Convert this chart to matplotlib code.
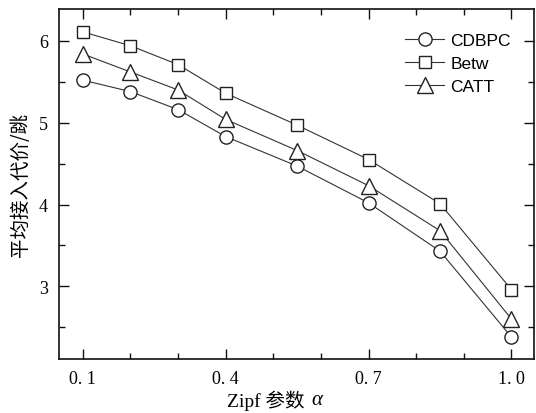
import matplotlib
matplotlib.use("Agg")
import matplotlib.pyplot as plt
from matplotlib.ticker import MultipleLocator, FixedLocator

# Zipf exponent values and average access cost (hops) per scheme
alpha = [0.1, 0.2, 0.3, 0.4, 0.55, 0.7, 0.85, 1.0]
cdbpc = [5.52, 5.38, 5.16, 4.83, 4.47, 4.02, 3.43, 2.38]
betw = [6.11, 5.94, 5.71, 5.36, 4.97, 4.55, 4.01, 2.96]
catt = [5.84, 5.62, 5.40, 5.04, 4.66, 4.23, 3.68, 2.60]

series = [("CDBPC", cdbpc, "o", 9.5), ("Betw", betw, "s", 9), ("CATT", catt, "^", 11)]

xticks = [0.1, 0.4, 0.7, 1.0]
xticklabels = ["0. 1", "0. 4", "0. 7", "1. 0"]
yticks = [3, 4, 5, 6]

fig = plt.figure(figsize=(5.36, 4.14), dpi=100)
ax = fig.add_axes([0.110, 0.130, 0.886, 0.846])

for name, vals, mk, ms in series:
    ax.plot(alpha, vals, color="#333333", lw=0.8, marker=mk, markersize=ms,
            markerfacecolor="white", markeredgecolor="#222222", markeredgewidth=1.0,
            label=name)

ax.set_xlim(0.05, 1.047)
ax.set_ylim(2.11, 6.39)

ax.xaxis.set_major_locator(FixedLocator(xticks))
ax.xaxis.set_minor_locator(MultipleLocator(0.1))
ax.set_xticklabels(xticklabels, family=["Liberation Serif"], fontsize=13)
ax.yaxis.set_major_locator(FixedLocator(yticks))
ax.yaxis.set_minor_locator(MultipleLocator(0.5))
ax.set_yticklabels([str(v) for v in yticks], family=["Liberation Serif"], fontsize=13)

ax.tick_params(which="both", direction="in", top=True, right=True, width=1.0, color="#111111")
ax.tick_params(which="major", length=7, pad=8)
ax.tick_params(which="minor", length=4)
for s in ax.spines.values():
    s.set_linewidth(1.2)
    s.set_color("#111111")

ax.set_ylabel("平均接入代价/跳", family=["Noto Sans CJK SC"], fontsize=14, labelpad=6)

# x-axis title: upright text followed by an italic alpha
fig.text(0.569, 0.033, "Zipf 参数", family=["Liberation Serif", "Noto Sans CJK SC"],
         fontsize=14, ha="right", va="center")
fig.text(0.581, 0.033, "α", family=["Liberation Serif"], fontstyle="italic",
         fontsize=15, ha="left", va="center")

leg = ax.legend(loc="upper right", frameon=False, prop={"family": "Liberation Sans", "size": 12.5},
                handlelength=2.2, handletextpad=0.4, labelspacing=0.45,
                bbox_to_anchor=(0.985, 0.975))

fig.savefig("out.png", dpi=100)
